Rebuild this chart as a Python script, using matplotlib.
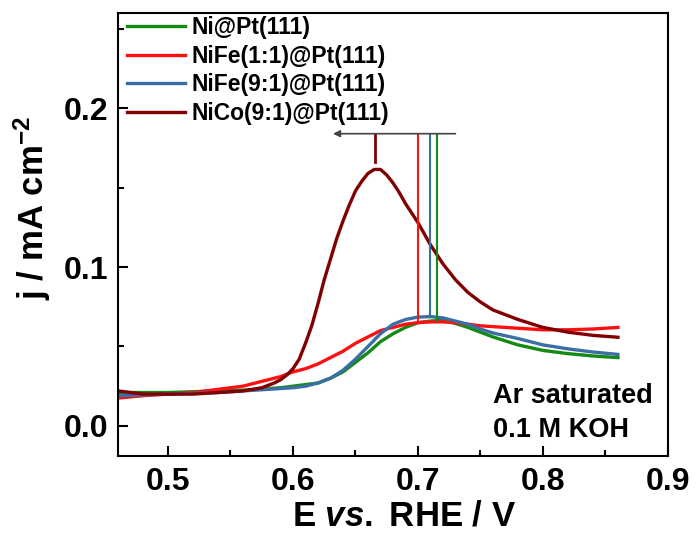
import matplotlib
matplotlib.use("Agg")
import matplotlib.pyplot as plt
from matplotlib.ticker import MultipleLocator

plt.rcParams['font.family'] = ['Liberation Sans', 'DejaVu Sans']
plt.rcParams['font.weight'] = 'bold'
plt.rcParams['mathtext.fontset'] = 'custom'
plt.rcParams['mathtext.rm'] = 'Liberation Sans:bold'
plt.rcParams['mathtext.bf'] = 'Liberation Sans:bold'
plt.rcParams['mathtext.it'] = 'Liberation Sans:italic:bold'

# potential (V vs RHE)
E = [0.46, 0.48, 0.50, 0.52, 0.54, 0.56, 0.57, 0.58, 0.59, 0.60, 0.61, 0.62,
     0.63, 0.64, 0.65, 0.66, 0.67, 0.68, 0.69, 0.70, 0.71, 0.72, 0.73, 0.74,
     0.75, 0.76, 0.78, 0.80, 0.82, 0.84, 0.86]

j_ni = [0.021, 0.021, 0.021, 0.0215, 0.022, 0.0225, 0.023, 0.0235, 0.024, 0.025, 0.026, 0.027,
        0.030, 0.034, 0.040, 0.046, 0.053, 0.058, 0.062, 0.065, 0.066, 0.0665, 0.0645, 0.062,
        0.059, 0.056, 0.051, 0.0475, 0.0455, 0.044, 0.043]
j_nife11 = [0.0175, 0.019, 0.020, 0.021, 0.023, 0.025, 0.027, 0.029, 0.031, 0.034, 0.036, 0.039,
            0.043, 0.047, 0.052, 0.056, 0.060, 0.062, 0.064, 0.065, 0.0655, 0.0655, 0.065, 0.064,
            0.063, 0.0625, 0.0615, 0.0605, 0.0605, 0.061, 0.062]
j_nife91 = [0.019, 0.0195, 0.020, 0.0205, 0.021, 0.022, 0.0225, 0.023, 0.0235, 0.024, 0.025, 0.027,
            0.030, 0.035, 0.042, 0.050, 0.058, 0.064, 0.067, 0.0685, 0.0688, 0.068, 0.066, 0.064,
            0.061, 0.0585, 0.055, 0.051, 0.0485, 0.0465, 0.045]

# NiCo curve read on a finer grid around its sharp peak
E_nico = [0.46, 0.48, 0.50, 0.52, 0.54, 0.56, 0.575, 0.585, 0.59, 0.595, 0.60, 0.605,
          0.61, 0.615, 0.62, 0.625, 0.63, 0.635, 0.64, 0.645, 0.65, 0.655, 0.66, 0.665,
          0.67, 0.675, 0.68, 0.685, 0.69, 0.695, 0.70, 0.71, 0.72, 0.73, 0.74, 0.75,
          0.76, 0.78, 0.80, 0.82, 0.84, 0.86]
j_nico = [0.022, 0.020, 0.020, 0.020, 0.021, 0.022, 0.024, 0.027, 0.029, 0.032, 0.036, 0.042,
          0.052, 0.063, 0.077, 0.092, 0.105, 0.118, 0.129, 0.139, 0.148, 0.154, 0.159, 0.1615,
          0.1615, 0.158, 0.153, 0.147, 0.140, 0.134, 0.128, 0.114, 0.102, 0.092, 0.084, 0.078,
          0.073, 0.067, 0.062, 0.059, 0.057, 0.0558]

labels = ["Ni@Pt(111)", "NiFe(1:1)@Pt(111)", "NiFe(9:1)@Pt(111)", "NiCo(9:1)@Pt(111)"]
colors = ["#138a13", "#ff1010", "#3a6ea5", "#800000"]

# peak markers: position and peak height
peak_E = [0.715, 0.700, 0.710, 0.666]
peak_j = [0.066, 0.0655, 0.0688, 0.166]

fig = plt.figure(figsize=(6.97, 5.34), dpi=100)
ax = fig.add_axes([0.1693, 0.146, 0.789, 0.8296])

series = [(E, j_ni), (E, j_nife11), (E, j_nife91), (E_nico, j_nico)]
for (x, y), c, lab in zip(series, colors, labels):
    ax.plot(x, y, color=c, lw=2.4, label=lab)

arrow_y = 0.184
for x0, y0, c in zip(peak_E, peak_j, colors):
    lw = 2.0 if c == "#800000" else 1.5
    ax.plot([x0, x0], [y0, arrow_y], color=c, lw=lw)

ax.annotate("", xy=(0.632, arrow_y), xytext=(0.73, arrow_y),
            arrowprops=dict(arrowstyle="-|>", color="#444444", lw=1.2,
                            mutation_scale=10, shrinkA=0, shrinkB=0))

ax.set_xlim(0.46, 0.9)
ax.set_ylim(-0.019, 0.26)
ax.xaxis.set_major_locator(MultipleLocator(0.1))
ax.xaxis.set_minor_locator(MultipleLocator(0.05))
ax.yaxis.set_major_locator(MultipleLocator(0.1))
ax.yaxis.set_minor_locator(MultipleLocator(0.05))
ax.tick_params(which='both', direction='in', width=1.5, labelsize=23)
ax.tick_params(axis='x', pad=8)
ax.tick_params(axis='y', pad=7)
ax.tick_params(which='major', length=7)
ax.tick_params(which='minor', length=4)
for lab in ax.get_xticklabels() + ax.get_yticklabels():
    lab.set_fontweight('bold')
for s in ax.spines.values():
    s.set_linewidth(1.5)

ax.set_xlabel(r"E $\it{vs.}$ RHE / V", fontsize=25, fontweight='bold')
ax.xaxis.set_label_coords(0.52, -0.098)
ax.set_ylabel(r"j / mA cm$^{-2}$", fontsize=25, fontweight='bold')
ax.yaxis.set_label_coords(-0.118, 0.56)

ax.legend(loc='upper left', bbox_to_anchor=(0.011, 1.0), frameon=False,
          handlelength=2.5, labelspacing=0.24, borderaxespad=0.05, borderpad=0.1,
          handletextpad=0.3, prop={'weight': 'bold', 'size': 16.5})

ax.text(0.682, 0.135, "Ar saturated", transform=ax.transAxes, ha='left',
        va='center', fontsize=19.5, fontweight='bold')
ax.text(0.682, 0.059, "0.1 M KOH", transform=ax.transAxes, ha='left',
        va='center', fontsize=19.5, fontweight='bold')

fig.savefig("out.png", dpi=100)
